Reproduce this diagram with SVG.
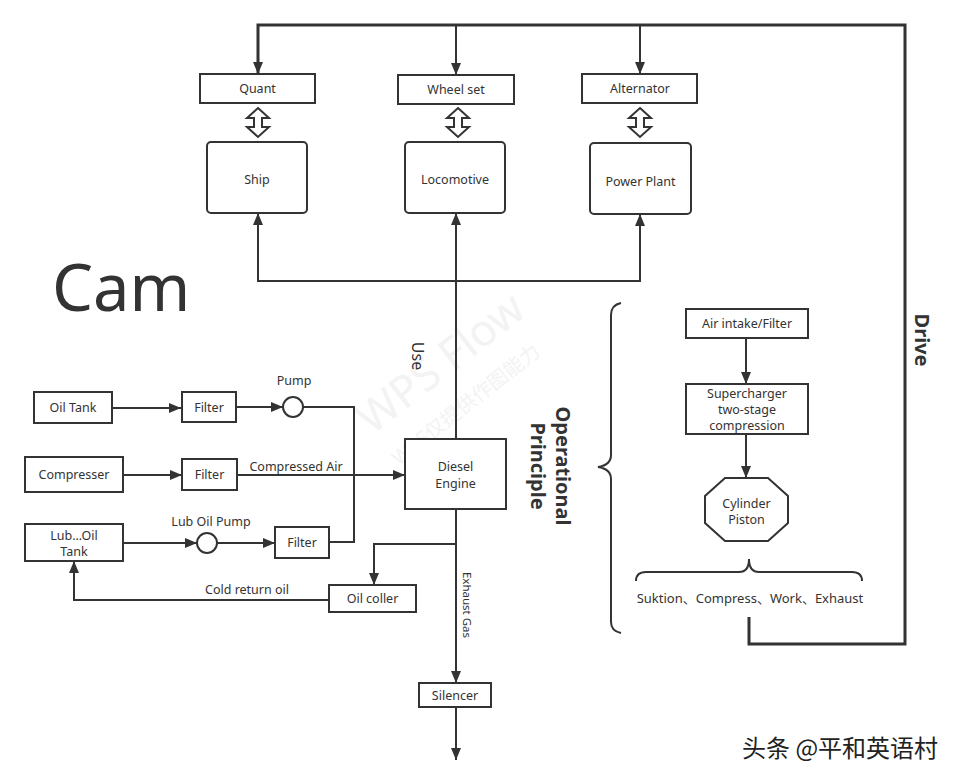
<svg xmlns="http://www.w3.org/2000/svg" width="972" height="784" viewBox="0 0 972 784">
<defs>
<marker id="ah" markerUnits="userSpaceOnUse" markerWidth="12" markerHeight="10" refX="12" refY="5" orient="auto">
<path d="M0,0 L12,5 L0,10 z" fill="#333"/>
</marker>
<style>
.box{fill:#fff;stroke:#333;stroke-width:2}
.ln{fill:none;stroke:#333;stroke-width:2}
.thick{fill:none;stroke:#333;stroke-width:3}
.t{font-family:"Noto Sans","Open Sans",sans-serif;font-size:12.5px;fill:#333;text-anchor:middle}
.b{font-family:"Noto Sans","Open Sans",sans-serif;font-size:20px;font-weight:bold;fill:#333;text-anchor:middle}
.dbl{fill:#fff;stroke:#333;stroke-width:2;stroke-linejoin:miter}
</style>
</defs>
<rect width="972" height="784" fill="#fff"/>

<g id="watermark" opacity="0.35">
<text x="450" y="375" transform="rotate(-38 450 375)" font-family="Noto Sans, sans-serif" font-size="44" fill="#ddd" text-anchor="middle">WPS Flow</text>
<text x="470" y="410" transform="rotate(-38 470 410)" font-family="Noto Sans, Noto Sans CJK SC, sans-serif" font-size="20" fill="#ddd" text-anchor="middle">WPS仅提供作图能力</text>
</g>

<g id="connectors">
<path class="thick" d="M749,617 V644 H905 V25 H258 V74" marker-end="url(#ah)"/>
<path class="ln" d="M456,25 V75" marker-end="url(#ah)"/>
<path class="ln" d="M640,25 V74" marker-end="url(#ah)"/>
<path class="ln" d="M456,440 V213" marker-end="url(#ah)"/>
<path class="ln" d="M456,281 H258 V213" marker-end="url(#ah)"/>
<path class="ln" d="M456,281 H640 V214" marker-end="url(#ah)"/>
<path class="dbl" d="M258,108 L269,118 L262,118 L262,127 L269,127 L258,137 L247,127 L254,127 L254,118 L247,118 Z"/>
<path class="dbl" d="M458,108 L469,118 L462,118 L462,127 L469,127 L458,137 L447,127 L454,127 L454,118 L447,118 Z"/>
<path class="dbl" d="M640,108 L651,118 L644,118 L644,127 L651,127 L640,137 L629,127 L636,127 L636,118 L629,118 Z"/>
<path class="ln" d="M112,408 H181" marker-end="url(#ah)"/>
<path class="ln" d="M236,407 H283" marker-end="url(#ah)"/>
<path class="ln" d="M303,407 H354 V542 H329"/>
<path class="ln" d="M123,475 H182" marker-end="url(#ah)"/>
<path class="ln" d="M237,475 H405" marker-end="url(#ah)"/>
<path class="ln" d="M123,543 H197" marker-end="url(#ah)"/>
<path class="ln" d="M217,543 H275" marker-end="url(#ah)"/>
<path class="ln" d="M456,544 H374 V585" marker-end="url(#ah)"/>
<path class="ln" d="M329,600 H74 V561" marker-end="url(#ah)"/>
<path class="ln" d="M456,509 V683" marker-end="url(#ah)"/>
<path class="ln" d="M456,707 V760" marker-end="url(#ah)"/>
<path class="ln" d="M746,338 V384" marker-end="url(#ah)"/>
<path class="ln" d="M746,434 V478" marker-end="url(#ah)"/>
<path class="ln" d="M621,303 Q611,305 611,315 V455 Q611,465 598,467 Q611,469 611,479 V622 Q611,631 621,633"/>
<path class="ln" d="M636,581 Q636,572 646,572 H739 Q749,572 749,559 Q749,572 759,572 H852 Q862,572 862,581"/>
</g>

<g id="quant"><rect class="box" x="200" y="74" width="115" height="29"/><text class="t" x="257.5" y="93">Quant</text></g>
<g id="wheelset"><rect class="box" x="398" y="75" width="116" height="29"/><text class="t" x="456" y="94">Wheel set</text></g>
<g id="alternator"><rect class="box" x="582" y="74" width="115" height="29"/><text class="t" x="640" y="93">Alternator</text></g>
<g id="ship"><rect class="box" x="207" y="142" width="100" height="71" rx="4"/><text class="t" x="257" y="184">Ship</text></g>
<g id="locomotive"><rect class="box" x="405" y="142" width="100" height="71" rx="4"/><text class="t" x="455" y="184">Locomotive</text></g>
<g id="powerplant"><rect class="box" x="590" y="143" width="101" height="71" rx="4"/><text class="t" x="640.5" y="186">Power Plant</text></g>

<g id="cam"><text x="52" y="311" font-family="Noto Sans, Open Sans, sans-serif" font-size="65" fill="#333">Cam</text></g>
<g id="use"><text class="t" style="font-size:16px" transform="translate(412,356) rotate(90)">Use</text></g>

<g id="diesel"><rect class="box" x="405" y="439" width="101" height="70"/><text class="t" x="455.5" y="471">Diesel</text><text class="t" x="455.5" y="488">Engine</text></g>

<g id="optext"><text class="b" transform="translate(556,466) rotate(90)">Operational</text><text class="b" transform="translate(531,466) rotate(90)">Principle</text></g>
<g id="drive"><text class="b" transform="translate(915,340) rotate(90)">Drive</text></g>

<g id="oiltank"><rect class="box" x="34" y="392" width="78" height="31"/><text class="t" x="73" y="412">Oil Tank</text></g>
<g id="filter1"><rect class="box" x="182" y="392" width="54" height="30"/><text class="t" x="209" y="412">Filter</text></g>
<g id="pump"><circle class="box" cx="293" cy="407" r="10"/><text class="t" x="294" y="385">Pump</text></g>
<g id="compresser"><rect class="box" x="25" y="457" width="98" height="35"/><text class="t" x="74" y="479">Compresser</text></g>
<g id="filter2"><rect class="box" x="182" y="459" width="55" height="31"/><text class="t" x="209.5" y="479">Filter</text></g>
<text class="t" x="296" y="471">Compressed Air</text>
<g id="luboiltank"><rect class="box" x="25" y="524" width="98" height="37"/><text class="t" x="74" y="540">Lub...Oil</text><text class="t" x="74" y="556">Tank</text></g>
<g id="lubpump"><circle class="box" cx="207" cy="543" r="10"/><text class="t" x="211" y="526">Lub Oil Pump</text></g>
<g id="filter3"><rect class="box" x="275" y="527" width="54" height="31"/><text class="t" x="302" y="547">Filter</text></g>
<g id="oilcoller"><rect class="box" x="329" y="585" width="87" height="27"/><text class="t" x="372.5" y="603">Oil coller</text></g>
<text class="t" x="247" y="594">Cold return oil</text>
<g id="exhaustlabel"><text class="t" style="font-size:11.5px" transform="translate(463,605) rotate(90)">Exhaust Gas</text></g>
<g id="silencer"><rect class="box" x="419" y="683" width="72" height="24"/><text class="t" x="455" y="700">Silencer</text></g>

<g id="airintake"><rect class="box" x="686" y="309" width="122" height="29"/><text class="t" x="747" y="328">Air intake/Filter</text></g>
<g id="supercharger"><rect class="box" x="686" y="384" width="122" height="50"/><text class="t" x="747" y="398">Supercharger</text><text class="t" x="747" y="414">two-stage</text><text class="t" x="747" y="430">compression</text></g>
<g id="cylinder"><polygon class="box" points="725,478 768,478 788,496 788,523 768,541 725,541 705,523 705,496"/><text class="t" x="746.5" y="508">Cylinder</text><text class="t" x="746.5" y="524">Piston</text></g>
<g id="strokes"><text class="t" style="font-size:13px;font-family:'Noto Sans','Noto Sans CJK SC',sans-serif" x="750" y="603">Suktion、Compress、Work、Exhaust</text></g>

<g id="credit"><text x="742" y="757" font-family="Noto Sans CJK SC, sans-serif" font-size="24" fill="#222">头条 @平和英语村</text></g>
</svg>
